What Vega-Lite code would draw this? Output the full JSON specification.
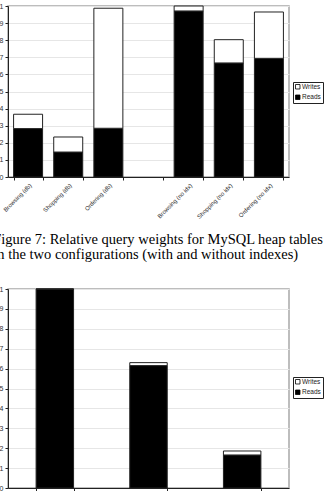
{
  "$schema": "https://vega.github.io/schema/vega-lite/v6.json",
  "padding": {"left": -8, "top": 1, "right": 0, "bottom": 0},
  "background": "#ffffff",
  "config": {
    "view": {"stroke": "#a8a8a8", "strokeWidth": 1.5},
    "axis": {"labelFont": "Liberation Sans", "labelColor": "#333333", "domainColor": "#222222", "tickColor": "#222222", "tickSize": 3, "labelPadding": 2, "title": null},
    "legend": {"labelFont": "Liberation Sans"}
  },
  "datasets": {
    "top": [
      {"config": "Browsing (db)", "series": "Reads", "weight": 0.283},
      {"config": "Browsing (db)", "series": "Writes", "weight": 0.084},
      {"config": "Shopping (db)", "series": "Reads", "weight": 0.146},
      {"config": "Shopping (db)", "series": "Writes", "weight": 0.088},
      {"config": "Ordering (db)", "series": "Reads", "weight": 0.285},
      {"config": "Ordering (db)", "series": "Writes", "weight": 0.702},
      {"config": "Browsing (no idx)", "series": "Reads", "weight": 0.971},
      {"config": "Browsing (no idx)", "series": "Writes", "weight": 0.029},
      {"config": "Shopping (no idx)", "series": "Reads", "weight": 0.667},
      {"config": "Shopping (no idx)", "series": "Writes", "weight": 0.136},
      {"config": "Ordering (no idx)", "series": "Reads", "weight": 0.694},
      {"config": "Ordering (no idx)", "series": "Writes", "weight": 0.271}
    ],
    "bottom": [
      {"config": "Browsing", "series": "Reads", "weight": 1.0},
      {"config": "Browsing", "series": "Writes", "weight": 0.0},
      {"config": "Shopping", "series": "Reads", "weight": 0.615},
      {"config": "Shopping", "series": "Writes", "weight": 0.015},
      {"config": "Ordering", "series": "Reads", "weight": 0.166},
      {"config": "Ordering", "series": "Writes", "weight": 0.02}
    ]
  },
  "spacing": 21,
  "resolve": {"scale": {"color": "independent", "x": "independent", "y": "independent"}, "legend": {"color": "independent"}},
  "vconcat": [
    {
      "width": 281,
      "height": 171,
      "data": {"name": "top"},
      "title": {
        "text": ["Figure 7: Relative query weights for MySQL heap tables", "in the two configurations (with and without indexes)"],
        "orient": "bottom",
        "anchor": "start",
        "frame": "bounds",
        "font": "Liberation Serif",
        "fontSize": 14.5,
        "fontWeight": "normal",
        "color": "#000000",
        "lineHeight": 15,
        "offset": 14
      },
      "mark": {"type": "bar", "stroke": "#222222", "strokeWidth": 1},
      "encoding": {
        "x": {
          "field": "config", "type": "nominal",
          "scale": {"domain": ["Browsing (db)", "Shopping (db)", "Ordering (db)", " ", "Browsing (no idx)", "Shopping (no idx)", "Ordering (no idx)"], "paddingInner": 0.2775, "paddingOuter": 0.139},
          "axis": {"labelAngle": -45, "labelFontSize": 6, "tickBand": "extent", "grid": false}
        },
        "y": {
          "field": "weight", "type": "quantitative", "stack": "zero",
          "scale": {"domain": [0, 1]},
          "axis": {"values": [0, 0.1, 0.2, 0.3, 0.4, 0.5, 0.6, 0.7, 0.8, 0.9, 1], "format": ".1~f", "labelFontSize": 7, "grid": true, "gridColor": "#e6e6e6"}
        },
        "color": {
          "field": "series", "type": "nominal",
          "scale": {"domain": ["Writes", "Reads"], "range": ["#ffffff", "#000000"]},
          "legend": {"orient": "none", "legendX": 285, "legendY": 76, "title": null, "strokeColor": "#222222", "fillColor": "#ffffff", "padding": 1.5, "symbolType": "square", "symbolSize": 20, "symbolStrokeColor": "#000000", "symbolStrokeWidth": 0.8, "labelFontSize": 6.5, "labelColor": "#222222", "rowPadding": 1.5, "labelOffset": 1}
        },
        "order": {"field": "series", "sort": "ascending"}
      }
    },
    {
      "width": 281,
      "height": 199,
      "data": {"name": "bottom"},
      "mark": {"type": "bar", "stroke": "#222222", "strokeWidth": 1},
      "encoding": {
        "x": {
          "field": "config", "type": "nominal",
          "scale": {"domain": ["Browsing", "Shopping", "Ordering"], "paddingInner": 0.6, "paddingOuter": 0.3},
          "axis": {"labelAngle": -45, "labelFontSize": 6, "tickBand": "extent", "grid": false}
        },
        "y": {
          "field": "weight", "type": "quantitative", "stack": "zero",
          "scale": {"domain": [0, 1]},
          "axis": {"values": [0, 0.1, 0.2, 0.3, 0.4, 0.5, 0.6, 0.7, 0.8, 0.9, 1], "format": ".1~f", "labelFontSize": 7, "grid": true, "gridColor": "#e6e6e6"}
        },
        "color": {
          "field": "series", "type": "nominal",
          "scale": {"domain": ["Writes", "Reads"], "range": ["#ffffff", "#000000"]},
          "legend": {"orient": "none", "legendX": 285, "legendY": 88, "title": null, "strokeColor": "#222222", "fillColor": "#ffffff", "padding": 1.5, "symbolType": "square", "symbolSize": 20, "symbolStrokeColor": "#000000", "symbolStrokeWidth": 0.8, "labelFontSize": 6.5, "labelColor": "#222222", "rowPadding": 1.5, "labelOffset": 1}
        },
        "order": {"field": "series", "sort": "ascending"}
      }
    }
  ]
}
